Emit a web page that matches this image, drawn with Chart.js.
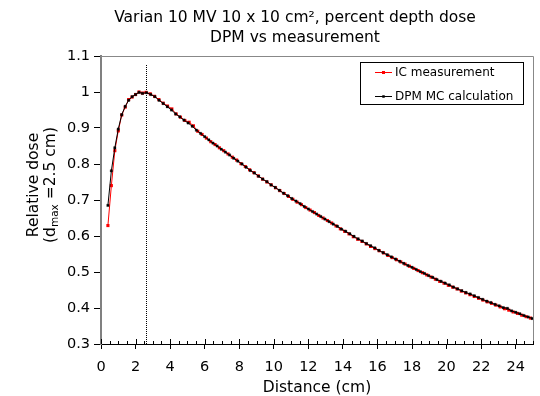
<!DOCTYPE html>
<html>
<head>
<meta charset="utf-8">
<script src="https://cdn.jsdelivr.net/npm/chart.js@4"></script>
<style>
html, body { margin: 0; padding: 0; background: #fff; }
</style>
</head>
<body>
<canvas id="myChart" width="540" height="396"></canvas>
<script>
// depth (cm) and relative dose
var icDepth = [0.4, 0.6, 0.8, 1.0, 1.2, 1.4, 1.6, 1.8, 2.0, 2.2, 2.4,
    2.6, 2.85, 3.1, 3.35, 3.6, 3.85, 4.1, 4.35, 4.6, 4.85, 5.1, 5.35, 5.6, 5.85, 6.1, 6.35, 6.6, 6.85, 7.1, 7.35,
    7.6, 7.85, 8.1, 8.35, 8.6, 8.85, 9.1, 9.35, 9.6, 9.85, 10.1, 10.35, 10.6, 10.85, 11.1, 11.35, 11.6, 11.85,
    12.1, 12.35, 12.6, 12.85, 13.1, 13.35, 13.6, 13.85, 14.1, 14.35, 14.6, 14.85, 15.1, 15.35, 15.6, 15.85,
    16.1, 16.35, 16.6, 16.85, 17.1, 17.35, 17.6, 17.85, 18.1, 18.35, 18.6, 18.85, 19.1, 19.35, 19.6, 19.85,
    20.1, 20.35, 20.6, 20.85, 21.1, 21.35, 21.6, 21.85, 22.1, 22.35, 22.6, 22.85, 23.1, 23.35, 23.6, 23.85,
    24.1, 24.35, 24.6, 24.85];
var icDose = [0.629, 0.740, 0.837, 0.892, 0.936, 0.958, 0.979, 0.986, 0.993, 1.000, 0.997,
    0.999, 0.995, 0.988, 0.979, 0.969, 0.961, 0.953, 0.939, 0.930, 0.921, 0.916, 0.906, 0.891, 0.882, 0.872, 0.862, 0.854, 0.845, 0.837, 0.828,
    0.819, 0.811, 0.801, 0.793, 0.784, 0.776, 0.767, 0.758, 0.750, 0.742, 0.734, 0.726, 0.718, 0.710, 0.702, 0.694, 0.687, 0.679,
    0.672, 0.665, 0.657, 0.650, 0.643, 0.636, 0.628, 0.620, 0.613, 0.606, 0.598, 0.591, 0.585, 0.578, 0.571, 0.565,
    0.559, 0.553, 0.546, 0.540, 0.534, 0.528, 0.522, 0.516, 0.510, 0.504, 0.498, 0.492, 0.486, 0.480, 0.474, 0.469,
    0.463, 0.458, 0.453, 0.447, 0.442, 0.437, 0.432, 0.427, 0.422, 0.417, 0.413, 0.408, 0.403, 0.398, 0.394, 0.389,
    0.385, 0.380, 0.376, 0.372];

var mcDepth = [0.4, 0.6, 0.8, 1.0, 1.2, 1.4, 1.6, 1.8, 2.0, 2.2, 2.4,
    2.64, 2.88, 3.12, 3.36, 3.60, 3.84, 4.08, 4.32, 4.56, 4.80, 5.04, 5.28, 5.52, 5.76, 6.00, 6.24, 6.48, 6.72, 6.96, 7.20,
    7.44, 7.68, 7.92, 8.16, 8.40, 8.64, 8.88, 9.12, 9.36, 9.60, 9.84, 10.08, 10.32, 10.56, 10.80, 11.04, 11.28, 11.52,
    11.76, 12.00, 12.24, 12.48, 12.72, 12.96, 13.20, 13.44, 13.68, 13.92, 14.16, 14.40, 14.64, 14.88, 15.12, 15.36,
    15.60, 15.84, 16.08, 16.32, 16.56, 16.80, 17.04, 17.28, 17.52, 17.76, 18.00, 18.24, 18.48, 18.72, 18.96, 19.20,
    19.44, 19.68, 19.92, 20.16, 20.40, 20.64, 20.88, 21.12, 21.36, 21.60, 21.84, 22.08, 22.32, 22.56, 22.80, 23.04,
    23.28, 23.52, 23.76, 24.00, 24.24, 24.48, 24.72, 24.96];
var mcDose = [0.685, 0.781, 0.845, 0.897, 0.937, 0.960, 0.977, 0.987, 0.993, 0.999, 0.996,
    0.998, 0.993, 0.987, 0.977, 0.968, 0.959, 0.950, 0.939, 0.931, 0.922, 0.914, 0.905, 0.894, 0.885, 0.876, 0.867, 0.858, 0.850, 0.841, 0.833,
    0.825, 0.816, 0.808, 0.800, 0.791, 0.782, 0.775, 0.766, 0.758, 0.751, 0.742, 0.735, 0.727, 0.719, 0.712, 0.704, 0.697, 0.690,
    0.682, 0.675, 0.668, 0.661, 0.654, 0.647, 0.640, 0.633, 0.627, 0.619, 0.613, 0.606, 0.599, 0.592, 0.586, 0.579,
    0.573, 0.567, 0.560, 0.554, 0.548, 0.542, 0.536, 0.530, 0.524, 0.518, 0.513, 0.507, 0.501, 0.496, 0.490, 0.485,
    0.479, 0.474, 0.469, 0.464, 0.458, 0.453, 0.448, 0.443, 0.439, 0.434, 0.429, 0.424, 0.419, 0.415, 0.410, 0.406,
    0.401, 0.399, 0.392, 0.388, 0.384, 0.379, 0.375, 0.371];

var seriesNames = ['IC measurement', 'DPM MC calculation'];
var titleLines = ['Varian 10 MV 10 x 10 cm\u00b2, percent depth dose', 'DPM vs measurement'];
var xTitle = 'Distance (cm)';
var xTickValues = [0, 2, 4, 6, 8, 10, 12, 14, 16, 18, 20, 22, 24];
var dmaxLine = 2.6;   // dotted marker
var xRange = [0, 25], xMinor = 0.5;
var yRange = [0.3, 1.1], yStep = 0.1;

var FONT = '"DejaVu Sans", Verdana, sans-serif';
Chart.defaults.font.family = FONT;
Chart.defaults.color = '#000';

function toPoints(xs, ys) {
    return xs.map(function (x, i) { return {x: x, y: ys[i]}; });
}

// frame, minor ticks, dmax line, titles and legend
var extras = {
    id: 'extras',
    beforeDatasetsDraw: function (chart) {
        var ctx = chart.ctx, a = chart.chartArea, xs = chart.scales.x;
        ctx.save();
        ctx.strokeStyle = '#888';
        ctx.lineWidth = 1;
        ctx.beginPath();
        ctx.moveTo(a.left, a.top + 0.5);
        ctx.lineTo(a.right + 0.5, a.top + 0.5);
        ctx.lineTo(a.right + 0.5, a.bottom);
        ctx.stroke();

        var px = Math.round(xs.getPixelForValue(dmaxLine)) + 0.5;
        ctx.strokeStyle = '#000';
        ctx.setLineDash([1, 1]);
        ctx.beginPath();
        ctx.moveTo(px, a.top + 9);
        ctx.lineTo(px, a.bottom);
        ctx.stroke();
        ctx.setLineDash([]);

        // inner tick marks on x axis
        for (var v = xRange[0]; v <= xRange[1]; v += xMinor) {
            var tx = Math.round(xs.getPixelForValue(v)) + 0.5;
            var len = xTickValues.indexOf(v) >= 0 ? 5 : 3;
            ctx.beginPath();
            ctx.moveTo(tx, a.bottom);
            ctx.lineTo(tx, a.bottom - len);
            ctx.stroke();
        }
        ctx.restore();
    },
    afterDraw: function (chart) {
        var ctx = chart.ctx;
        ctx.save();
        ctx.fillStyle = '#000';

        // main title
        ctx.font = '15.5px ' + FONT;
        ctx.textAlign = 'center';
        ctx.textBaseline = 'middle';
        ctx.fillText(titleLines[0], 295, 18);
        ctx.fillText(titleLines[1], 295, 38);

        // y title, two lines, with subscript
        ctx.save();
        ctx.translate(34, 185);
        ctx.rotate(-Math.PI / 2);
        ctx.fillText('Relative dose', 0, 0);
        var big = '15.5px ' + FONT, small = '10.5px ' + FONT;
        var p1 = '(d', p2 = 'max', p3 = ' =2.5 cm)';
        ctx.font = big;
        var w1 = ctx.measureText(p1).width, w3 = ctx.measureText(p3).width;
        ctx.font = small;
        var w2 = ctx.measureText(p2).width;
        var sx = -(w1 + w2 + w3) / 2;
        ctx.textAlign = 'left';
        ctx.font = big;
        ctx.fillText(p1, sx, 17);
        ctx.font = small;
        ctx.fillText(p2, sx + w1, 21);
        ctx.font = big;
        ctx.fillText(p3, sx + w1 + w2, 17);
        ctx.restore();

        // legend box
        ctx.fillStyle = '#fff';
        ctx.fillRect(360.5, 62.5, 163, 42);
        ctx.strokeStyle = '#000';
        ctx.lineWidth = 1;
        ctx.strokeRect(360.5, 62.5, 163, 42);
        ctx.font = '12px ' + FONT;
        ctx.textAlign = 'left';
        ctx.textBaseline = 'middle';
        var rows = [72, 96];
        chart.data.datasets.forEach(function (ds, i) {
            var y = rows[i];
            ctx.strokeStyle = ds.borderColor;
            ctx.beginPath();
            ctx.moveTo(375, y + 0.5);
            ctx.lineTo(392, y + 0.5);
            ctx.stroke();
            ctx.fillStyle = ds.borderColor;
            var s = i === 0 ? 3 : 2.5;
            ctx.fillRect(383.5 - s / 2, y + 0.5 - s / 2, s, s);
            ctx.fillStyle = '#000';
            ctx.fillText(ds.label, 395, y + 1);
        });
        ctx.restore();
    }
};

var ctx = document.getElementById('myChart').getContext('2d');
var myChart = new Chart(ctx, {
    type: 'line',
    data: {
        datasets: [
            {
                label: seriesNames[0],
                data: toPoints(icDepth, icDose),
                borderColor: '#ff0000',
                backgroundColor: '#ff0000',
                borderWidth: 1,
                pointStyle: 'rect',
                pointRadius: 2.2,
                pointBorderWidth: 0,
                tension: 0,
                order: 1
            },
            {
                label: seriesNames[1],
                data: toPoints(mcDepth, mcDose),
                borderColor: '#000000',
                backgroundColor: '#000000',
                borderWidth: 1,
                pointStyle: 'rect',
                pointRadius: 1.7,
                pointBorderWidth: 0.6,
                pointBorderColor: 'rgba(0,0,0,0.45)',
                tension: 0,
                order: 0
            }
        ]
    },
    options: {
        responsive: false,
        animation: false,
        devicePixelRatio: 1,
        layout: { padding: { top: 56, right: 7, left: 0, bottom: 0 } },
        plugins: {
            legend: { display: false },
            tooltip: { enabled: false }
        },
        scales: {
            x: {
                type: 'linear',
                min: xRange[0],
                max: xRange[1],
                border: { display: true, color: '#000', width: 1 },
                grid: { drawOnChartArea: false, tickLength: 5, color: '#000' },
                ticks: { padding: 10, font: { size: 14.5 }, maxRotation: 0, autoSkip: false },
                title: { display: true, text: xTitle, font: { size: 15.5, lineHeight: 1 }, padding: 0 },
                afterBuildTicks: function (s) {
                    s.ticks = xTickValues.map(function (v) { return {value: v}; });
                },
                afterFit: function (s) { s.height = 52; }
            },
            y: {
                type: 'linear',
                min: yRange[0],
                max: yRange[1],
                border: { display: true, color: '#808080', width: 2 },
                grid: { drawOnChartArea: false, tickLength: 7, color: '#000' },
                ticks: {
                    stepSize: yStep,
                    padding: 4,
                    font: { size: 14.5 },
                    callback: function (v) { return String(Math.round(v * 10) / 10); }
                },
                afterFit: function (s) { s.width = 101; }
            }
        }
    },
    plugins: [extras]
});
</script>
</body>
</html>
